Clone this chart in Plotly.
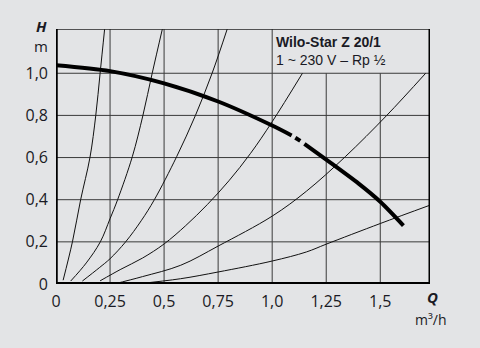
import plotly.graph_objects as go

# ---- data ----
x_ticks = [0, 0.25, 0.5, 0.75, 1.0, 1.25, 1.5]
x_ticktext = ["0", "0,25", "0,5", "0,75", "1,0", "1,25", "1,5"]
y_ticks = [0, 0.2, 0.4, 0.6, 0.8, 1.0]
y_ticktext = ["0", "0,2", "0,4", "0,6", "0,8", "1,0"]

# pump curve (split where the drawing has a dash-dot break)
pump_q1 = [0.0, 0.25, 0.5, 0.75, 1.0, 1.09]
pump_h1 = [1.038, 1.01, 0.952, 0.866, 0.752, 0.705]
pump_q2 = [1.107, 1.13]
pump_h2 = [0.694, 0.679]
pump_q3 = [1.149, 1.25, 1.4, 1.5, 1.607]
pump_h3 = [0.665, 0.59, 0.476, 0.39, 0.277]

# system curves
sys_q = [
    [0.033, 0.076, 0.114, 0.157, 0.184, 0.204, 0.225],
    [0.068, 0.14, 0.205, 0.25, 0.285, 0.353, 0.402, 0.445, 0.492],
    [0.122, 0.2, 0.25, 0.322, 0.394, 0.455, 0.558, 0.645, 0.722, 0.792],
    [0.204, 0.3, 0.4, 0.5, 0.6, 0.7, 0.8, 0.9, 1.0, 1.14],
    [0.268, 0.4, 0.577, 0.75, 1.0, 1.158, 1.338, 1.53, 1.71],
    [0.369, 0.576, 0.75, 1.0, 1.158, 1.25, 1.5, 1.73],
]
sys_h = [
    [0.018, 0.2, 0.4, 0.6, 0.8, 1.0, 1.21],
    [0.014, 0.1, 0.2, 0.31, 0.4, 0.604, 0.8, 1.0, 1.21],
    [0.014, 0.077, 0.12, 0.2, 0.3, 0.4, 0.604, 0.8, 1.0, 1.21],
    [0.015, 0.07, 0.123, 0.19, 0.277, 0.377, 0.49, 0.62, 0.77, 1.0],
    [0.0, 0.035, 0.089, 0.18, 0.322, 0.44, 0.604, 0.8, 1.0],
    [0.0, 0.025, 0.057, 0.109, 0.152, 0.189, 0.287, 0.374],
]

X_MAX = 1.73
Y_MAX = 1.21
BG = "#e3e4e6"
INK = "#111111"
TXT = "#1a1a24"
FONT = "Open Sans"
BOXFONT = "Liberation Sans"

fig = go.Figure()

for q, h in zip(sys_q, sys_h):
    fig.add_trace(go.Scatter(x=q, y=h, mode="lines", line=dict(color=INK, width=1, shape="spline", smoothing=1.0),
                             hoverinfo="skip", showlegend=False))

for q, h in [(pump_q1, pump_h1), (pump_q2, pump_h2), (pump_q3, pump_h3)]:
    fig.add_trace(go.Scatter(x=q, y=h, mode="lines", line=dict(color="#000000", width=4, shape="spline", smoothing=0.8),
                             hoverinfo="skip", showlegend=False))

shapes = []
# grid lines
for v in x_ticks[1:]:
    top = Y_MAX if v <= 1.0 else 1.0
    shapes.append(dict(type="line", xref="x", yref="y", x0=v, x1=v, y0=0, y1=top,
                       line=dict(color="#3a3a3a", width=1), layer="below"))
for v in y_ticks[1:]:
    shapes.append(dict(type="line", xref="x", yref="y", x0=0, x1=X_MAX, y0=v, y1=v,
                       line=dict(color="#3a3a3a", width=1), layer="below"))
# frame
shapes.append(dict(type="line", xref="x", yref="y", x0=0, x1=X_MAX, y0=Y_MAX, y1=Y_MAX, line=dict(color="#222", width=1.5)))
shapes.append(dict(type="line", xref="x", yref="y", x0=0, x1=0, y0=0, y1=Y_MAX, line=dict(color="#000", width=3.5)))
shapes.append(dict(type="line", xref="x", yref="y", x0=X_MAX, x1=X_MAX, y0=0, y1=Y_MAX, line=dict(color="#000", width=3)))
shapes.append(dict(type="line", xref="x", yref="y", x0=0, x1=X_MAX, y0=0, y1=0, line=dict(color="#000", width=4)))

annotations = [
    dict(xref="x", yref="y", x=1.0, y=1.195, xanchor="left", yanchor="top", showarrow=False, xshift=2,
         text="<b>Wilo-Star Z 20/1</b><br>1 ~ 230 V – Rp ½", align="left",
         font=dict(family=BOXFONT, size=14, color=TXT)),
    dict(xref="paper", yref="paper", x=-0.039, y=1.012, xanchor="center", yanchor="middle", showarrow=False,
         text="<b><i>H</i></b>", font=dict(family=FONT, size=15, color=TXT)),
    dict(xref="paper", yref="paper", x=-0.040, y=0.932, xanchor="center", yanchor="middle", showarrow=False,
         text="m", font=dict(family=FONT, size=15, color=TXT)),
    dict(xref="paper", yref="paper", x=1.007, y=-0.052, xanchor="center", yanchor="middle", showarrow=False,
         text="<b><i>Q</i></b>", font=dict(family=FONT, size=15, color=TXT)),
    dict(xref="paper", yref="paper", x=1.003, y=-0.138, xanchor="center", yanchor="middle", showarrow=False,
         text="m³/h", font=dict(family=FONT, size=14, color=TXT)),
]

fig.update_layout(
    width=480, height=348,
    margin=dict(l=56, r=50, t=29, b=64),
    paper_bgcolor=BG, plot_bgcolor=BG,
    shapes=shapes, annotations=annotations,
    font=dict(family=FONT, size=16, color=TXT),
    xaxis=dict(range=[0, X_MAX], showgrid=False, zeroline=False, showline=False,
               tickvals=x_ticks, ticktext=x_ticktext, ticks="", ticklabelstandoff=6, fixedrange=True),
    yaxis=dict(range=[0, Y_MAX], showgrid=False, zeroline=False, showline=False,
               tickvals=y_ticks, ticktext=y_ticktext, ticks="", ticklabelstandoff=7, fixedrange=True),
)

fig.write_html("out.html")
